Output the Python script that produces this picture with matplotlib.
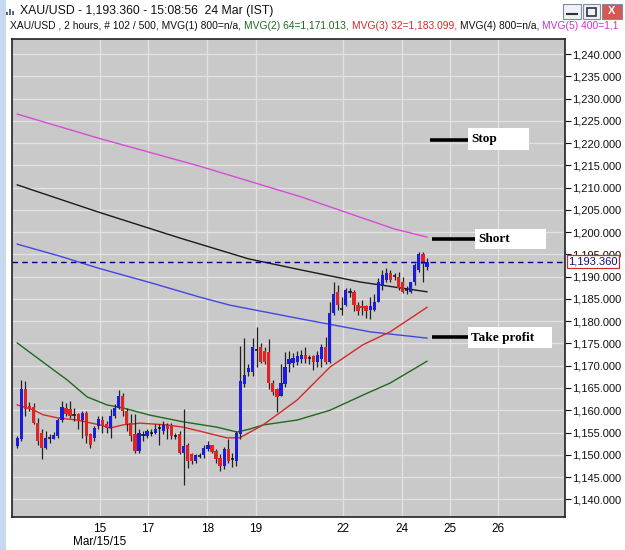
import matplotlib
matplotlib.use("Agg")
import matplotlib.pyplot as plt
from matplotlib.patches import Rectangle
from matplotlib.transforms import blended_transform_factory
import numpy as np

# ---------------- data ----------------
opens = [1152.0, 1153.45, 1164.8, 1160.9, 1160.8, 1157.2, 1154.95, 1151.6, 1153.6, 1153.6,
         1154.2, 1157.9, 1160.6, 1160.2, 1159.0, 1159.1, 1157.9, 1159.4, 1154.6, 1153.8,
         1156.4, 1157.9, 1156.8, 1156.1, 1158.7, 1160.6, 1163.2, 1159.8, 1157.2, 1154.6,
         1150.8, 1154.4, 1154.2, 1154.9, 1154.95, 1155.9, 1155.3, 1156.6, 1156.6, 1154.3,
         1154.6, 1150.3, 1152.1, 1150.1, 1148.6, 1149.7, 1149.9, 1151.2, 1152.1, 1150.8,
         1149.3, 1147.5, 1151.4, 1149.0, 1148.6, 1154.6, 1165.8, 1168.5, 1168.6, 1173.6,
         1174.1, 1173.2, 1173.0, 1166.2, 1164.7, 1163.3, 1165.8, 1170.3, 1170.7, 1170.9,
         1171.4, 1172.5, 1171.8, 1172.1, 1170.9, 1171.4, 1174.1, 1170.9, 1181.9, 1186.6,
         1182.8, 1183.7, 1186.7, 1186.6, 1183.7, 1183.3, 1183.3, 1182.6, 1182.6, 1184.4,
         1187.8, 1189.3, 1190.9, 1190.1, 1190.0, 1188.9, 1187.1, 1186.6, 1188.7, 1191.6,
         1195.0, 1192.2]
highs = [1154.2, 1166.9, 1166.5, 1161.8, 1161.7, 1158.3, 1155.7, 1155.3, 1154.6, 1155.1,
         1158.3, 1162.05, 1161.7, 1162.05, 1160.6, 1159.4, 1159.8, 1159.8, 1154.95, 1156.4,
         1158.7, 1158.7, 1157.6, 1160.2, 1161.3, 1164.5, 1163.9, 1160.6, 1159.1, 1159.1,
         1155.7, 1155.3, 1155.7, 1155.7, 1156.8, 1156.8, 1157.6, 1157.2, 1157.2, 1154.95,
         1155.3, 1160.3, 1152.7, 1150.5, 1150.1, 1150.5, 1152.3, 1153.1, 1152.3, 1151.2,
         1150.1, 1151.8, 1153.45, 1150.4, 1155.3, 1174.5, 1176.3, 1170.3, 1176.3, 1178.6,
         1175.2, 1174.1, 1175.9, 1166.8, 1165.1, 1170.3, 1173.0, 1173.2, 1172.8, 1173.4,
         1173.6, 1174.3, 1172.5, 1172.5, 1173.2, 1174.8, 1176.5, 1184.4, 1188.7, 1188.2,
         1185.5, 1187.5, 1187.5, 1187.1, 1184.4, 1184.8, 1183.7, 1185.5, 1186.0, 1189.8,
         1191.6, 1192.0, 1191.6, 1190.9, 1191.1, 1190.0, 1187.8, 1188.9, 1193.1, 1195.6,
         1195.6, 1194.2]
lows = [1151.6, 1153.1, 1158.7, 1159.8, 1156.8, 1152.3, 1149.0, 1151.2, 1152.7, 1153.45,
        1153.8, 1157.3, 1158.7, 1158.3, 1157.6, 1155.7, 1153.8, 1152.7, 1151.6, 1153.1,
        1155.7, 1154.95, 1154.95, 1153.8, 1158.3, 1160.2, 1158.7, 1155.3, 1153.1, 1150.5,
        1150.5, 1153.1, 1153.8, 1154.2, 1154.6, 1152.3, 1154.6, 1153.45, 1153.45, 1153.45,
        1150.1, 1143.1, 1147.1, 1147.9, 1148.2, 1149.3, 1149.3, 1150.8, 1150.5, 1148.2,
        1146.35, 1146.7, 1148.2, 1147.3, 1147.5, 1153.5, 1165.3, 1167.6, 1167.6, 1169.8,
        1170.7, 1170.3, 1164.7, 1163.5, 1159.7, 1163.1, 1165.3, 1168.5, 1169.6, 1170.1,
        1170.7, 1170.7, 1170.3, 1169.1, 1169.8, 1169.8, 1170.3, 1170.7, 1181.5, 1182.6,
        1181.5, 1183.3, 1185.5, 1182.2, 1181.5, 1181.5, 1180.8, 1180.4, 1182.2, 1184.2,
        1187.1, 1188.7, 1188.7, 1189.3, 1187.1, 1186.4, 1186.0, 1186.4, 1188.2, 1191.1,
        1188.9, 1191.6]
closes = [1153.8, 1164.8, 1160.2, 1160.3, 1157.2, 1153.1, 1151.6, 1153.8, 1153.75, 1154.35,
          1157.9, 1160.8, 1159.1, 1158.7, 1158.85, 1157.6, 1159.4, 1154.2, 1152.3, 1156.1,
          1158.1, 1156.4, 1156.1, 1158.7, 1160.6, 1163.2, 1159.8, 1156.8, 1154.2, 1150.8,
          1154.95, 1154.3, 1155.3, 1155.0, 1155.85, 1156.0, 1156.6, 1155.85, 1154.2, 1154.2,
          1150.5, 1152.0, 1148.6, 1148.6, 1149.9, 1149.8, 1151.6, 1152.3, 1150.6, 1149.0,
          1147.5, 1151.4, 1148.5, 1149.1, 1155.0, 1166.5, 1168.0, 1169.4, 1174.1, 1173.4,
          1170.9, 1170.9, 1166.2, 1164.2, 1162.9, 1166.2, 1169.8, 1171.4, 1171.8, 1172.1,
          1172.5, 1171.4, 1171.7, 1170.9, 1172.5, 1174.3, 1170.9, 1181.9, 1186.0, 1183.7,
          1182.6, 1187.1, 1186.5, 1183.7, 1182.2, 1183.0, 1182.2, 1183.5, 1184.4, 1188.9,
          1190.4, 1190.9, 1189.3, 1190.0, 1187.5, 1186.6, 1187.0, 1188.7, 1192.7, 1195.0,
          1192.9, 1193.36]

# moving-average lines (bar index, price)
mvg5_x = [0, 20, 45, 70, 93, 101]
mvg5_y = [1226.5, 1221.1, 1214.8, 1207.9, 1200.7, 1198.9]
black_x = [0, 20, 40, 57, 70, 84.5, 101]
black_y = [1210.6, 1204.5, 1198.7, 1194.0, 1191.5, 1188.8, 1186.6]
blue_x = [0, 10.5, 20, 33, 45, 52.4, 70, 87, 101]
blue_y = [1197.3, 1194.6, 1191.9, 1188.6, 1185.4, 1183.6, 1180.5, 1177.6, 1176.2]
mvg2_x = [0, 5.6, 12.3, 17.2, 22.1, 26.1, 32.7, 40.9, 49.2, 54.2, 57.4, 60.6, 69, 77.1, 85.2, 91.9, 101]
mvg2_y = [1175.1, 1171.3, 1166.8, 1163.0, 1161.2, 1160.5, 1158.9, 1157.4, 1156.2, 1155.1,
          1155.8, 1156.7, 1157.8, 1160.0, 1163.4, 1166.1, 1171.0]
mvg3_x = [0, 3.9, 6.3, 9.8, 14.7, 20.4, 22.9, 26, 30.3, 36.9, 40.9, 46.8, 51.7, 54.8, 60.6, 69, 77.1, 85.2, 91.9, 101]
mvg3_y = [1161.2, 1160.1, 1159.0, 1158.3, 1157.8, 1156.7, 1156.0, 1156.7, 1157.1, 1156.7,
          1156.2, 1154.9, 1153.8, 1153.8, 1156.7, 1162.3, 1169.7, 1174.7, 1177.6, 1183.1]

last_price = 1193.36
date_pos = [20.4, 32.2, 46.8, 58.8, 80.3, 94.8, 106.7, 118.5]
date_labels = ["15", "17", "18", "19", "22", "24", "25", "26"]
y_ticks = list(range(1140, 1241, 5))
levels = ["Stop", "Short", "Take profit"]
level_prices = [1220.7, 1198.5, 1176.4]

# ---------------- layout helpers ----------------
W, H = 625, 550
fig = plt.figure(figsize=(W / 100, H / 100), dpi=100)
fig.patch.set_facecolor("white")
SANS = "Liberation Sans"

def fx(px):
    return px / W

def fy(py):
    return 1 - py / H

PL, PR, PT, PB = 12, 565, 39, 517
ax = fig.add_axes([fx(PL), fy(PB), (PR - PL) / W, (PB - PT) / H])
X0, DX = 17.3, 4.056
Y0, DY = 1240.0, 4.453

def dx(px):
    return (px - X0) / DX

def dy(py):
    return Y0 - (py - 54) / DY

ax.set_xlim(dx(PL), dx(PR))
ax.set_ylim(dy(PB), dy(PT))
ax.set_facecolor("#c9c9c9")

# grid
for v in y_ticks:
    ax.axhline(v, color="#e2e2e2", lw=0.9, zorder=0)
for p in date_pos:
    ax.axvline(p, color="#e2e2e2", lw=0.9, zorder=0)

# moving averages
ax.plot(mvg5_x, mvg5_y, color="#d84bd8", lw=1.0, zorder=2)
ax.plot(black_x, black_y, color="#1a1a1a", lw=1.0, zorder=2)
ax.plot(blue_x, blue_y, color="#4545e6", lw=1.0, zorder=2)
ax.plot(mvg2_x, mvg2_y, color="#1e6a1e", lw=1.0, zorder=2)
ax.plot(mvg3_x, mvg3_y, color="#d42a2a", lw=1.0, zorder=2)

# candles
for i, (o, h, l, c) in enumerate(zip(opens, highs, lows, closes)):
    ax.vlines(i, l, h, color="#222222", lw=0.9, zorder=3)
    if abs(c - o) < 0.25:
        ax.hlines((o + c) / 2, i - 0.4, i + 0.4, color="#111111", lw=1.1, zorder=4)
    else:
        col = "#1c1cdc" if c > o else "#e02424"
        ax.bar(i, abs(c - o), bottom=min(o, c), width=0.8, color=col, lw=0, zorder=4)

# last price dashed line
ax.axhline(last_price, color="#000080", lw=1.0, dashes=(4, 3), zorder=5)

# axis styling
ax.yaxis.tick_right()
ax.set_yticks(y_ticks)
ax.set_yticklabels([f"{v:,.3f}" for v in y_ticks], fontsize=8, family=SANS, color="#111111")
ax.tick_params(axis="y", length=4, width=0.8, pad=1, colors="#111111")
ax.set_xticks(date_pos)
ax.set_xticklabels(date_labels, fontsize=8.5, family=SANS)
ax.tick_params(axis="x", length=0, pad=4)
for s in ax.spines.values():
    s.set_color("#222222")
    s.set_linewidth(1.2)

# last price box
tr = blended_transform_factory(ax.transAxes, ax.transData)
ax.text(1.006, last_price, "1,193.360", transform=tr, fontsize=8, family=SANS,
        color="#10107a", va="center", ha="left", zorder=10,
        bbox=dict(boxstyle="square,pad=0.12", fc="white", ec="#c83030", lw=0.9))

# annotations
ann_line = [(430, 468), (432, 475), (432, 468)]
ann_box = [(468, 529, 128, 150), (475, 546, 229, 249), (468, 552, 327, 348)]
for name, price, (l0, l1), (b0, b1, t0, t1) in zip(levels, level_prices, ann_line, ann_box):
    ax.plot([dx(l0), dx(l1)], [price, price], color="black", lw=2.6, zorder=6, solid_capstyle="butt")
    ax.add_patch(Rectangle((dx(b0), dy(t1)), dx(b1) - dx(b0), dy(t0) - dy(t1),
                           fc="white", ec="none", zorder=6))
    ax.text(dx(b0 + 3), (dy(t0) + dy(t1)) / 2, name, fontsize=9.5, family="Liberation Serif",
            fontweight="bold", va="center", ha="left", zorder=7)

fig.text(fx(100), fy(542), "Mar/15/15", fontsize=8.5, family=SANS, ha="center", va="center")

# window chrome
fig.patches.append(Rectangle((0, 0), fx(6), 1, transform=fig.transFigure, fc="#c6d9ef", ec="none"))
fig.text(fx(20), fy(11), "XAU/USD - 1,193.360 - 15:08:56  24 Mar (IST)", fontsize=8.8,
         family=SANS, va="center", ha="left", color="#111111")
for k, hgt in enumerate([3, 6, 4]):
    fig.patches.append(Rectangle((fx(6 + k * 3), fy(15)), fx(2), hgt / H,
                                 transform=fig.transFigure, fc="#5a6a8a", ec="none"))
btns = [(563, 581, "#eef2f8"), (583, 600, "#eef2f8"), (602, 622, "#d8574e")]
for b0, b1, colr in btns:
    fig.patches.append(Rectangle((fx(b0), fy(19)), (b1 - b0) / W, 15 / H,
                                 transform=fig.transFigure, fc=colr, ec="#7d8ca3", lw=0.8))
fig.lines.append(plt.Line2D([fx(567), fx(577)], [fy(14), fy(14)], transform=fig.transFigure,
                            color="#333333", lw=1.5))
fig.patches.append(Rectangle((fx(587), fy(16)), 9 / W, 8 / H, transform=fig.transFigure,
                             fc="none", ec="#333333", lw=1.2))
fig.text(fx(612), fy(11.5), "X", fontsize=8, family=SANS, fontweight="bold",
         color="white", ha="center", va="center")

# legend line (coloured segments)
segs = [("XAU/USD , 2 hours, # 102 / 500, MVG(1) 800=n/a,", "#111111"),
        ("MVG(2) 64=1,171.013,", "#1e6a1e"),
        ("MVG(3) 32=1,183.099,", "#d42a2a"),
        ("MVG(4) 800=n/a,", "#111111"),
        ("MVG(5) 400=1,1", "#cc33cc")]
r = fig.canvas.get_renderer()
xpos = 10
for s, colr in segs:
    t = fig.text(fx(xpos), fy(26), s, fontsize=7.35, family=SANS, color=colr,
                 va="center", ha="left")
    bb = t.get_window_extent(renderer=r)
    xpos += bb.width + 3

fig.savefig("out.png", dpi=100, facecolor="white")
